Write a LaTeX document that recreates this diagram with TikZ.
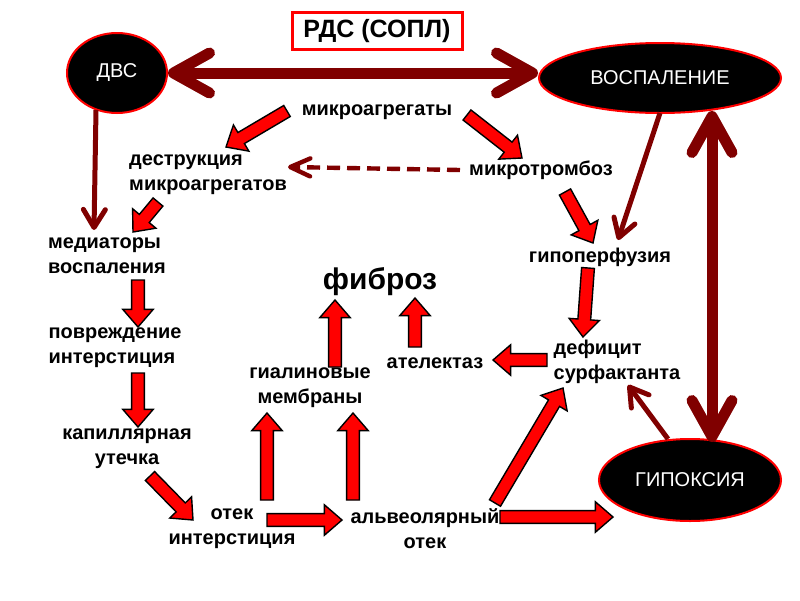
\documentclass[tikz,border=0pt]{standalone}
\usepackage{fontspec}
\usepackage{tikz}
\usetikzlibrary{arrows.meta,calc,shapes.geometric}
\newfontfamily\arialfont{Liberation Sans}
\definecolor{rdsmaroon}{HTML}{800000}
\definecolor{rdsred}{HTML}{FF0000}
% block arrow: shaft half width, head half width, head length
\newcommand{\fasw}{1.6mm}
\newcommand{\fahw}{3.8mm}
\newcommand{\fahl}{4.4mm}
\newcommand{\fatarrow}[2]{%
  \coordinate (fa-s) at (#1);
  \coordinate (fa-e) at (#2);
  \coordinate (fa-n) at ($(fa-e)!\fahl!(fa-s)$);
  \draw[fatarr] ($(fa-s)!\fasw!90:(fa-e)$) -- ($(fa-n)!\fasw!-90:(fa-s)$)
    -- ($(fa-n)!\fahw!-90:(fa-s)$) -- (fa-e) -- ($(fa-n)!\fahw!90:(fa-s)$)
    -- ($(fa-n)!\fasw!90:(fa-s)$) -- ($(fa-s)!\fasw!-90:(fa-e)$) -- cycle;}

\begin{document}
\begin{tikzpicture}[x=0.25mm,y=-0.25mm,
  lbl/.style={font=\arialfont\bfseries\fontsize{14.2}{17.6}\selectfont,
              inner sep=0pt},
  oval/.style={ellipse,fill=black,draw=rdsred,line width=0.5mm,inner sep=0pt,
               text=white,font=\arialfont\fontsize{14.2}{16}\selectfont},
  fatarr/.style={fill=rdsred,draw=black,line width=0.35mm,line join=miter},
  darr/.style={draw=rdsmaroon,line width=1.25mm,
               -{Straight Barb[length=4.5mm,width=5.5mm,round]}},
  bigarr/.style={draw=rdsmaroon,line width=2.75mm,
                 {Straight Barb[length=9mm,width=10mm,round]}-{Straight Barb[length=9mm,width=10mm,round]}},
  dasharr/.style={draw=rdsmaroon,line width=1.1mm,dash pattern=on 3.25mm off 1.75mm,
                  -{Straight Barb[length=5mm,width=4.5mm,round]}},
]
\fill[white] (0,0) rectangle (800,600);
\useasboundingbox (0,0) rectangle (800,600);

\node[draw=rdsred,line width=0.75mm,minimum width=42.5mm,minimum height=9.25mm,
      font=\arialfont\bfseries\fontsize{17.8}{20}\selectfont] (title) at (377,31)
  {РДС (СОПЛ)};
\node[oval,minimum width=25mm,minimum height=20mm] (dvs) at (117,73) {ДВС};
\node[oval,minimum width=60.5mm,minimum height=17.5mm] (vospal) at (660,78)
  {ВОСПАЛЕНИЕ};
\node[oval,minimum width=45.5mm,minimum height=20.5mm] (gipoks) at (690,480)
  {ГИПОКСИЯ};

\node[lbl] (mikroagr) at (377,112) {микроагрегаты};
\node[lbl,align=left] (destr) at (208,175) {деструкция\\микроагрегатов};
\node[lbl] (mikrotromb) at (541,170) {микротромбоз};
\node[lbl,align=left] (mediat) at (107,256) {медиаторы\\воспаления};
\node[lbl] (gipoperf) at (600,257) {гипоперфузия};
\node[lbl,font=\arialfont\bfseries\fontsize{21.3}{24}\selectfont] (fibroz)
  at (380,282) {фиброз};
\node[lbl,align=left] (povrezhd) at (115,348) {повреждение\\интерстиция};
\node[lbl,align=center] (gialin) at (310,388) {гиалиновые\\мембраны};
\node[lbl] (atelekt) at (435,363) {ателектаз};
\node[lbl,align=left] (deficit) at (617,362) {дефицит\\сурфактанта};
\node[lbl,align=center] (kapill) at (127,449) {капиллярная\\утечка};
\node[lbl,align=center] (otek) at (232,529) {отек\\интерстиция};
\node[lbl,align=center] (alveol) at (425,529) {альвеолярный\\отек};

% dark connectors
\draw[bigarr] (dvs.east) -- (dvs.east -| vospal.west);
\draw[bigarr] ([shift={(52,-3)}]vospal.south) -- ([shift={(22,4)}]gipoks.north);
\draw[darr] ([shift={(-21,-4)}]dvs.south) -- ([shift={(-13,-26)}]mediat.center);
\draw[darr] ([shift={(0,-1)}]vospal.south) -- ([shift={(18,-17)}]gipoperf.center);
\draw[darr] ([shift={(-22,1)}]gipoks.north) -- ([shift={(11,23)}]deficit.center);
\draw[dasharr] ([shift={(-81,0)}]mikrotromb.center) -- ([shift={(80,-8)}]destr.center);

% red block arrows
\fatarrow{[shift={(-90,-1)}]mikroagr.center}{[shift={(18,-28)}]destr.center}
\fatarrow{[shift={(90,3)}]mikroagr.center}{[shift={(-19,-12)}]mikrotromb.center}
\fatarrow{[shift={(-50,27)}]destr.center}{[shift={(26,-24)}]mediat.center}
\fatarrow{[shift={(31,24)}]mediat.center}{[shift={(23,-21)}]povrezhd.center}
\fatarrow{[shift={(23,25)}]povrezhd.center}{[shift={(11,-22)}]kapill.center}
\fatarrow{[shift={(23,27)}]kapill.center}{[shift={(-39,-9)}]otek.center}
\fatarrow{[shift={(35,-9)}]otek.center}{[shift={(-83,-9)}]alveol.center}
\fatarrow{[shift={(35,-29)}]otek.center}{[shift={(-43,25)}]gialin.center}
\fatarrow{[shift={(-72,-29)}]alveol.center}{[shift={(43,25)}]gialin.center}
\fatarrow{[shift={(25,-21)}]gialin.center}{[shift={(-45,18)}]fibroz.center}
\fatarrow{[shift={(-20,-16)}]atelekt.center}{[shift={(35,16)}]fibroz.center}
\fatarrow{[shift={(-70,-2)}]deficit.center}{[shift={(58,-3)}]atelekt.center}
\fatarrow{[shift={(-12,11)}]gipoperf.center}{[shift={(-34,-25)}]deficit.center}
\fatarrow{[shift={(24,22)}]mikrotromb.center}{[shift={(-7,-14)}]gipoperf.center}
\fatarrow{[shift={(70,-26)}]alveol.center}{[shift={(-54,26)}]deficit.center}
\fatarrow{[shift={(75,-12)}]alveol.center}{[shift={(-77,37)}]gipoks.center}
\end{tikzpicture}
\end{document}
